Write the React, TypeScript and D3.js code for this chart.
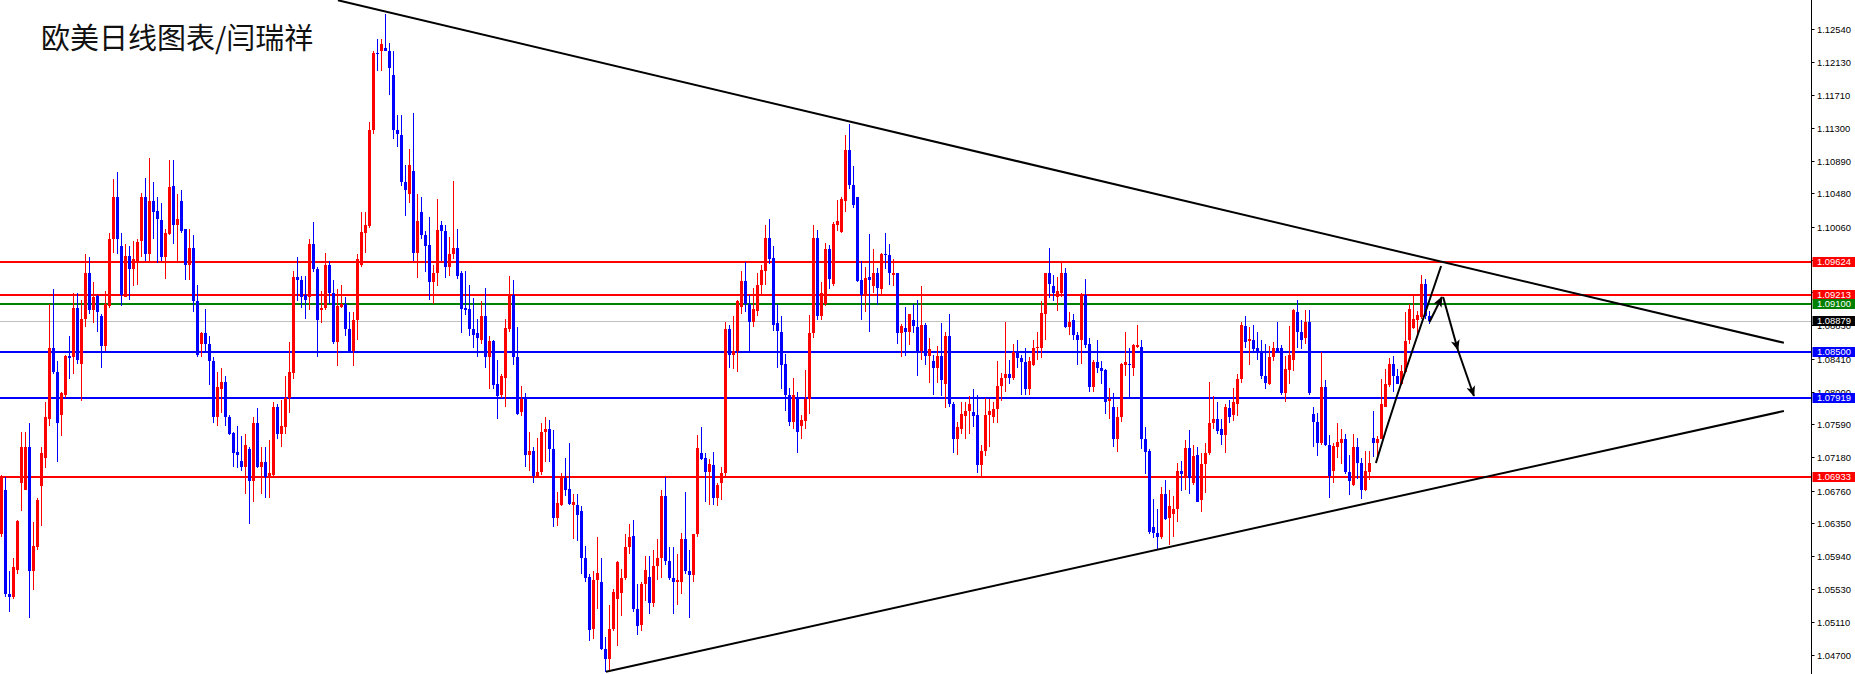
import * as d3 from "d3";

// daily EURUSD candles: [open, high, low, close]
const DAILY_OHLC: [number, number, number, number][] = [
  [1.0621, 1.0696, 1.0618, 1.0693], [1.0677, 1.0693, 1.0543, 1.0546], [1.0546, 1.0575, 1.0524, 1.0543], [1.0543, 1.0591, 1.054, 1.058],
  [1.0576, 1.0639, 1.0572, 1.0638], [1.0685, 1.0749, 1.065, 1.0731], [1.0677, 1.0749, 1.0677, 1.0731], [1.0731, 1.076, 1.0516, 1.0575],
  [1.0575, 1.0637, 1.0551, 1.0607], [1.0605, 1.0666, 1.0602, 1.0664], [1.0682, 1.0731, 1.0631, 1.0723], [1.0717, 1.0787, 1.0704, 1.0768],
  [1.0765, 1.091, 1.0757, 1.0854], [1.0854, 1.0929, 1.0822, 1.0824], [1.0824, 1.0838, 1.0712, 1.076], [1.0771, 1.08, 1.0744, 1.0798],
  [1.0795, 1.0846, 1.0792, 1.0844], [1.0844, 1.087, 1.0816, 1.0842], [1.0843, 1.0923, 1.0822, 1.0905], [1.0905, 1.0923, 1.0835, 1.084],
  [1.0835, 1.0914, 1.0788, 1.0891], [1.0891, 1.0972, 1.0881, 1.0949], [1.0949, 1.0969, 1.0897, 1.0902], [1.0902, 1.0937, 1.0886, 1.0918],
  [1.0919, 1.0921, 1.0875, 1.0899], [1.0894, 1.0897, 1.083, 1.0857], [1.0857, 1.0926, 1.0851, 1.091], [1.0907, 1.0999, 1.0905, 1.0991],
  [1.0991, 1.1066, 1.0974, 1.1044], [1.1044, 1.1075, 1.0972, 1.0991], [1.0982, 1.0999, 1.0907, 1.0921], [1.0918, 1.0985, 1.0918, 1.097],
  [1.097, 1.0982, 1.0915, 1.0953], [1.0953, 1.0988, 1.0932, 1.0966], [1.0964, 1.0991, 1.0934, 1.0987], [1.0988, 1.1048, 1.0969, 1.1044],
  [1.1044, 1.1067, 1.0964, 1.0972], [1.0972, 1.1093, 1.0964, 1.1039], [1.1039, 1.1063, 1.0991, 1.1025], [1.1026, 1.1044, 1.0961, 1.1016],
  [1.1015, 1.1036, 1.0964, 1.0969], [1.0969, 1.1004, 1.0941, 1.0999], [1.0997, 1.109, 1.0996, 1.1056], [1.1057, 1.109, 1.0985, 1.1009],
  [1.1009, 1.1047, 1.0964, 1.1016], [1.1039, 1.1052, 1.0999, 1.1001], [1.1004, 1.1004, 1.094, 1.0958], [1.0958, 1.1004, 1.094, 1.098],
  [1.098, 1.0996, 1.0899, 1.0913], [1.0913, 1.0934, 1.0843, 1.0846], [1.0859, 1.0875, 1.0843, 1.0873], [1.0873, 1.0903, 1.0848, 1.0859],
  [1.086, 1.087, 1.0808, 1.0838], [1.0838, 1.0843, 1.076, 1.0768], [1.0768, 1.0824, 1.0757, 1.0806], [1.0803, 1.083, 1.0773, 1.0812],
  [1.0812, 1.0819, 1.0757, 1.0768], [1.0768, 1.077, 1.0745, 1.0747], [1.0748, 1.0749, 1.0706, 1.0723], [1.0724, 1.0757, 1.0704, 1.0721],
  [1.0713, 1.0744, 1.0701, 1.0705], [1.0706, 1.0747, 1.0672, 1.0733], [1.0728, 1.0731, 1.0634, 1.0688], [1.0688, 1.0768, 1.0661, 1.076],
  [1.076, 1.0779, 1.0704, 1.0706], [1.0706, 1.0731, 1.0672, 1.0712], [1.0712, 1.0731, 1.0666, 1.0693], [1.0693, 1.0739, 1.0666, 1.0698],
  [1.0696, 1.0787, 1.0693, 1.0781], [1.0781, 1.0784, 1.0741, 1.0747], [1.0747, 1.0789, 1.0731, 1.0757], [1.0755, 1.0819, 1.0747, 1.0792],
  [1.0792, 1.0862, 1.0773, 1.0824], [1.0823, 1.0951, 1.0816, 1.0943], [1.0943, 1.0969, 1.0913, 1.094], [1.094, 1.0945, 1.0905, 1.0918],
  [1.0921, 1.0945, 1.0891, 1.0915], [1.0918, 1.0991, 1.0902, 1.0985], [1.0985, 1.1012, 1.095, 1.0953], [1.0954, 1.0956, 1.0843, 1.0889],
  [1.0902, 1.0926, 1.0886, 1.0905], [1.0905, 1.0974, 1.0902, 1.0958], [1.0958, 1.0964, 1.091, 1.0923], [1.0923, 1.094, 1.0859, 1.0862],
  [1.0862, 1.0929, 1.0832, 1.0907], [1.0906, 1.0934, 1.0905, 1.091], [1.091, 1.0918, 1.087, 1.0878], [1.0878, 1.0899, 1.0851, 1.0851],
  [1.0851, 1.0899, 1.0832, 1.0889], [1.0889, 1.0972, 1.0865, 1.0966], [1.0958, 1.1025, 1.0956, 1.1], [1.0999, 1.1025, 1.0974, 1.1008],
  [1.1007, 1.1138, 1.1005, 1.1127], [1.1127, 1.1226, 1.1122, 1.1224], [1.1224, 1.1242, 1.1202, 1.1223], [1.1227, 1.1242, 1.1202, 1.1235],
  [1.123, 1.1273, 1.1226, 1.1226], [1.1226, 1.1237, 1.1171, 1.1205], [1.1196, 1.1226, 1.1116, 1.1127], [1.1128, 1.1146, 1.1106, 1.1123],
  [1.1121, 1.1146, 1.1057, 1.1063], [1.1063, 1.1084, 1.102, 1.1052], [1.1047, 1.1104, 1.1036, 1.1084], [1.1076, 1.1149, 1.0964, 1.0974],
  [1.0974, 1.1047, 1.0942, 1.1014], [1.1025, 1.1044, 1.0991, 1.0996], [1.0996, 1.1001, 1.095, 1.0982], [1.0984, 1.1018, 1.0915, 1.0937],
  [1.0937, 1.0958, 1.091, 1.0948], [1.0948, 1.1041, 1.0932, 1.1002], [1.1009, 1.1013, 1.0964, 1.1001], [1.1001, 1.1009, 1.0942, 1.0956],
  [1.0956, 1.0993, 1.0945, 1.0972], [1.0972, 1.1064, 1.0966, 1.098], [1.098, 1.1004, 1.0941, 1.0945], [1.0948, 1.0951, 1.0873, 1.0903],
  [1.0904, 1.0951, 1.0896, 1.0902], [1.0903, 1.0934, 1.087, 1.0878], [1.0878, 1.0917, 1.0854, 1.0871], [1.0873, 1.0891, 1.0843, 1.0867],
  [1.0865, 1.0913, 1.0859, 1.0894], [1.0894, 1.093, 1.083, 1.0843], [1.0843, 1.087, 1.0803, 1.0863], [1.0863, 1.0865, 1.0803, 1.0808],
  [1.0809, 1.084, 1.0765, 1.0794], [1.0795, 1.0822, 1.0792, 1.0819], [1.0817, 1.0891, 1.0781, 1.088], [1.0878, 1.0945, 1.0875, 1.0921],
  [1.0921, 1.094, 1.0833, 1.0843], [1.0843, 1.0881, 1.0771, 1.0772], [1.0774, 1.0807, 1.0769, 1.0791], [1.0791, 1.0798, 1.0705, 1.0721],
  [1.0721, 1.0749, 1.0701, 1.0726], [1.0726, 1.0731, 1.0685, 1.0694], [1.0694, 1.0742, 1.0693, 1.0699], [1.0699, 1.076, 1.0695, 1.0749],
  [1.0749, 1.0768, 1.0712, 1.0753], [1.0753, 1.0764, 1.0712, 1.0728], [1.0728, 1.0752, 1.063, 1.0642], [1.0642, 1.0674, 1.0631, 1.066],
  [1.0658, 1.0698, 1.0656, 1.0692], [1.0692, 1.0717, 1.0669, 1.0677], [1.0678, 1.0736, 1.0658, 1.0659], [1.0658, 1.0672, 1.0615, 1.0661],
  [1.0658, 1.0672, 1.0613, 1.0645], [1.065, 1.0656, 1.0572, 1.0591], [1.0591, 1.0607, 1.0562, 1.0567], [1.0568, 1.0572, 1.0487, 1.0501],
  [1.0503, 1.0575, 1.049, 1.0564], [1.0564, 1.0618, 1.0527, 1.0573], [1.0562, 1.0591, 1.0476, 1.0478], [1.0478, 1.0493, 1.0449, 1.0465],
  [1.0465, 1.0532, 1.0449, 1.0503], [1.0503, 1.0553, 1.05, 1.0549], [1.054, 1.0588, 1.0481, 1.0586], [1.0548, 1.0578, 1.0519, 1.0566],
  [1.0566, 1.0621, 1.0564, 1.0605], [1.0605, 1.0634, 1.0597, 1.0618], [1.0619, 1.0639, 1.0524, 1.0527], [1.0528, 1.0559, 1.0495, 1.0506],
  [1.0508, 1.0562, 1.05, 1.0559], [1.0559, 1.0594, 1.0538, 1.0576], [1.0568, 1.0594, 1.0521, 1.0535], [1.0535, 1.0602, 1.053, 1.0582],
  [1.0582, 1.0615, 1.0564, 1.0592], [1.0591, 1.0677, 1.0567, 1.0669], [1.0669, 1.0693, 1.0583, 1.0588], [1.0588, 1.0605, 1.0564, 1.0566],
  [1.0566, 1.0605, 1.0521, 1.0562], [1.0562, 1.0597, 1.0532, 1.0564], [1.0562, 1.0623, 1.0546, 1.0615], [1.0615, 1.0674, 1.0572, 1.0575],
  [1.0575, 1.0602, 1.0516, 1.057], [1.057, 1.0621, 1.0562, 1.0621], [1.0621, 1.0746, 1.0618, 1.0729], [1.0723, 1.0756, 1.0714, 1.0716],
  [1.0717, 1.0723, 1.0662, 1.0699], [1.0699, 1.0716, 1.0658, 1.0709], [1.0708, 1.0724, 1.0658, 1.0666], [1.0666, 1.0685, 1.0656, 1.0683],
  [1.0685, 1.0706, 1.0664, 1.0698], [1.0698, 1.0887, 1.0692, 1.0878], [1.0878, 1.0883, 1.083, 1.0846], [1.0846, 1.0894, 1.0828, 1.0851],
  [1.0851, 1.0914, 1.0824, 1.0913], [1.0906, 1.0951, 1.0897, 1.0938], [1.0938, 1.0962, 1.0899, 1.091], [1.091, 1.0921, 1.0851, 1.0887],
  [1.0887, 1.093, 1.0881, 1.0903], [1.0901, 1.0948, 1.0894, 1.0933], [1.0933, 1.0958, 1.0921, 1.0952], [1.0951, 1.1008, 1.0934, 1.0992],
  [1.0992, 1.1016, 1.096, 1.0966], [1.0967, 1.0982, 1.0876, 1.0883], [1.0886, 1.091, 1.083, 1.0876], [1.0874, 1.0894, 1.0803, 1.0833],
  [1.0835, 1.0847, 1.0776, 1.0796], [1.0796, 1.0804, 1.0757, 1.0762], [1.0762, 1.0817, 1.0753, 1.0795], [1.0792, 1.08, 1.0723, 1.0749],
  [1.0757, 1.0771, 1.074, 1.0764], [1.0763, 1.0827, 1.0753, 1.0791], [1.0791, 1.0896, 1.0772, 1.0873], [1.0873, 1.1008, 1.0867, 1.0992],
  [1.0992, 1.1002, 1.0889, 1.0894], [1.0894, 1.0937, 1.0889, 1.0923], [1.091, 1.0986, 1.0907, 1.0979], [1.0979, 1.0984, 1.0928, 1.0941],
  [1.0935, 1.1012, 1.0932, 1.101], [1.1009, 1.104, 1.1001, 1.1013], [1.1, 1.1044, 1.0999, 1.1041], [1.1039, 1.1121, 1.1025, 1.1103],
  [1.1103, 1.1135, 1.1053, 1.1059], [1.1059, 1.1083, 1.103, 1.1033], [1.1043, 1.1044, 1.0937, 1.0938], [1.094, 1.0964, 1.089, 1.0921],
  [1.0919, 1.0956, 1.0899, 1.0942], [1.0944, 1.0997, 1.0875, 1.094], [1.0932, 1.0978, 1.0923, 1.0949], [1.0949, 1.0955, 1.0908, 1.093],
  [1.0929, 1.0973, 1.0922, 1.0972], [1.0972, 1.0999, 1.0953, 1.0971], [1.0971, 1.0985, 1.0933, 1.0948], [1.0946, 1.0966, 1.0932, 1.0948],
  [1.0948, 1.0949, 1.086, 1.0873], [1.0873, 1.0885, 1.0843, 1.0882], [1.088, 1.0906, 1.0844, 1.0874], [1.0875, 1.0897, 1.0858, 1.0897],
  [1.0889, 1.091, 1.0873, 1.0882], [1.0881, 1.0915, 1.0819, 1.0851], [1.0851, 1.0932, 1.084, 1.0883], [1.0883, 1.0886, 1.0833, 1.0844],
  [1.0844, 1.0867, 1.0811, 1.0853], [1.0838, 1.0846, 1.0795, 1.083], [1.083, 1.0857, 1.0811, 1.0844], [1.0844, 1.0886, 1.0794, 1.0815],
  [1.081, 1.0874, 1.0779, 1.087], [1.087, 1.0897, 1.0781, 1.0784], [1.0784, 1.0787, 1.0723, 1.0741], [1.0741, 1.0762, 1.0721, 1.0755],
  [1.0753, 1.0787, 1.0747, 1.0772], [1.0769, 1.0787, 1.074, 1.0776], [1.0776, 1.0794, 1.0747, 1.0784], [1.0774, 1.0803, 1.0755, 1.0769],
  [1.0771, 1.0795, 1.0698, 1.0708], [1.0708, 1.0733, 1.0694, 1.0726], [1.0725, 1.0792, 1.0719, 1.0771], [1.0771, 1.0791, 1.0731, 1.0776],
  [1.0768, 1.0787, 1.076, 1.0778], [1.0778, 1.0838, 1.076, 1.0807], [1.0807, 1.0823, 1.0788, 1.0817], [1.0817, 1.0887, 1.08, 1.0822],
  [1.0822, 1.0839, 1.081, 1.0817], [1.0817, 1.0859, 1.0815, 1.085], [1.085, 1.0865, 1.083, 1.0842], [1.0842, 1.0846, 1.0795, 1.0837],
  [1.0837, 1.0855, 1.0795, 1.0803], [1.0803, 1.0843, 1.0795, 1.0838], [1.0833, 1.0865, 1.0832, 1.0855], [1.0854, 1.0875, 1.0839, 1.0856],
  [1.0855, 1.0913, 1.0842, 1.0898], [1.0897, 1.0948, 1.0865, 1.0948], [1.0948, 1.098, 1.0917, 1.0935], [1.0932, 1.0946, 1.0913, 1.0923],
  [1.0918, 1.0943, 1.0901, 1.0926], [1.0923, 1.0962, 1.0918, 1.0948], [1.0948, 1.0955, 1.088, 1.0881], [1.0881, 1.0899, 1.0871, 1.0887],
  [1.0889, 1.0897, 1.0865, 1.0871], [1.0871, 1.0875, 1.0833, 1.0865], [1.0865, 1.0923, 1.0835, 1.0921], [1.0921, 1.0941, 1.0855, 1.0858],
  [1.0859, 1.0867, 1.0799, 1.0806], [1.0806, 1.084, 1.08, 1.0837], [1.0837, 1.0865, 1.0823, 1.083], [1.083, 1.0838, 1.081, 1.0826],
  [1.0827, 1.0828, 1.0772, 1.0787], [1.0788, 1.0804, 1.0765, 1.0791], [1.0781, 1.0798, 1.0731, 1.0741], [1.0741, 1.0781, 1.0724, 1.0768],
  [1.0768, 1.0836, 1.0762, 1.0835], [1.0833, 1.0875, 1.0819, 1.0837], [1.0835, 1.0855, 1.079, 1.0833], [1.083, 1.086, 1.0819, 1.0858],
  [1.0856, 1.0883, 1.0854, 1.0858], [1.0856, 1.0865, 1.0728, 1.0741], [1.0741, 1.0756, 1.0697, 1.0724], [1.0726, 1.0728, 1.0622, 1.0624],
  [1.063, 1.0665, 1.0617, 1.0623], [1.0623, 1.0653, 1.0602, 1.0618], [1.0618, 1.068, 1.0615, 1.0672], [1.0672, 1.0689, 1.0639, 1.064],
  [1.0642, 1.0677, 1.0608, 1.0656], [1.0647, 1.0669, 1.0618, 1.0653], [1.0653, 1.071, 1.0637, 1.07], [1.07, 1.0713, 1.0676, 1.0697],
  [1.0693, 1.0739, 1.0677, 1.0729], [1.0729, 1.0752, 1.0672, 1.0692], [1.0685, 1.0733, 1.0683, 1.0719], [1.072, 1.0731, 1.0661, 1.0662],
  [1.0664, 1.0723, 1.0649, 1.0709], [1.0709, 1.0735, 1.0673, 1.0723], [1.0723, 1.0812, 1.072, 1.076], [1.076, 1.0794, 1.0753, 1.0765],
  [1.0765, 1.0787, 1.0747, 1.0751], [1.0753, 1.0765, 1.0733, 1.0746], [1.0746, 1.0784, 1.0723, 1.078], [1.0779, 1.0789, 1.076, 1.0768],
  [1.0771, 1.0804, 1.0763, 1.0787], [1.0784, 1.0822, 1.0769, 1.0816], [1.0816, 1.0887, 1.0811, 1.0883], [1.0882, 1.0894, 1.0854, 1.0862],
  [1.0863, 1.0881, 1.0833, 1.0866], [1.0865, 1.0883, 1.0851, 1.0853], [1.0854, 1.0874, 1.084, 1.0851], [1.0851, 1.0865, 1.0816, 1.0819],
  [1.0819, 1.0859, 1.0803, 1.0811], [1.081, 1.0857, 1.0808, 1.0843], [1.0843, 1.0862, 1.0838, 1.0855], [1.0855, 1.0887, 1.0848, 1.085],
  [1.0855, 1.0858, 1.0796, 1.0798], [1.0798, 1.0844, 1.0787, 1.0828], [1.0827, 1.0882, 1.081, 1.0846], [1.084, 1.0903, 1.0826, 1.0902],
  [1.0899, 1.0915, 1.0854, 1.0875], [1.0875, 1.089, 1.0853, 1.0865], [1.0867, 1.0902, 1.0859, 1.0887], [1.0887, 1.0902, 1.0796, 1.0798],
  [1.0772, 1.0781, 1.0731, 1.0762], [1.0762, 1.0773, 1.0719, 1.0736], [1.0735, 1.0849, 1.0733, 1.0806], [1.0806, 1.0815, 1.0732, 1.0733],
  [1.0733, 1.0746, 1.0666, 1.0694], [1.0701, 1.0736, 1.0685, 1.0732], [1.0731, 1.076, 1.0717, 1.0737], [1.0736, 1.0753, 1.0709, 1.0741],
  [1.0741, 1.0747, 1.0697, 1.0699], [1.0699, 1.072, 1.067, 1.0688], [1.0683, 1.0747, 1.0682, 1.0731], [1.0731, 1.0742, 1.069, 1.071],
  [1.071, 1.0717, 1.0665, 1.0677], [1.0677, 1.0725, 1.0676, 1.0701], [1.0699, 1.0725, 1.0689, 1.071], [1.0742, 1.0776, 1.0718, 1.0736],
  [1.0735, 1.0744, 1.0714, 1.0741], [1.0741, 1.0816, 1.074, 1.0784], [1.0781, 1.0828, 1.078, 1.081], [1.0808, 1.0842, 1.0806, 1.0835],
  [1.0835, 1.0844, 1.08, 1.0819], [1.0819, 1.0828, 1.081, 1.081], [1.081, 1.0833, 1.0808, 1.0826], [1.0825, 1.0899, 1.0823, 1.0863],
  [1.0865, 1.091, 1.0859, 1.0903], [1.088, 1.0921, 1.0878, 1.0891], [1.0889, 1.0901, 1.0869, 1.0896], [1.0893, 1.0946, 1.0891, 1.0935],
  [1.0935, 1.0941, 1.0891, 1.0894], [1.0894, 1.0901, 1.0885, 1.0888],
];

// right price scale labels
const PRICE_TICKS = [
  "1.12540", "1.12130", "1.11710", "1.11300", "1.10890", "1.10480", "1.10060", "1.09650", "1.09240", "1.08830",
  "1.08410", "1.08000", "1.07590", "1.07180", "1.06760", "1.06350", "1.05940", "1.05530", "1.05110", "1.04700",
];

// horizontal levels drawn by the analyst
const LEVEL_PRICES = [1.09624, 1.09213, 1.091, 1.085, 1.07919, 1.06933];
const LEVEL_KINDS = ["resist", "resist", "pivot", "support", "support", "resist"];
const CURRENT_PRICE = 1.08879;

// trend lines as [bar index, price]
const UPPER_TREND: [number, number][] = [[84.1, 1.129], [445.6, 1.0861]];
const LOWER_TREND: [number, number][] = [[151.1, 1.0449], [445.6, 1.07756]];
const RISE_CURVE: [number, number][] = [[343.6, 1.07105], [348.8, 1.07935], [359.9, 1.09572]];
const ARROWS: [number, number][][] = [
  [[357.0, 1.0887], [360.1, 1.09184]],
  [[360.4, 1.09184], [364.1, 1.0852]],
  [[364.1, 1.0852], [368.1, 1.07944]],
];

const TITLE = "欧美日线图表/闫瑞祥";

const W = 1855;
const H = 674;
const AXIS_X = 1811.5;
const UP = "#ff0000";
const DOWN = "#0000ff";
const kindColor = { resist: "#ff0000", pivot: "#008000", support: "#0000ff" };

export default function App() {
  const x = d3.scaleLinear().domain([0, 1]).range([1.5, 5.5]);
  const y = d3.scaleLinear().domain([1.047, 1.1254]).range([655, 29]);

  const line = d3
    .line<[number, number]>()
    .x((d) => x(d[0]))
    .y((d) => y(d[1]));
  const curve = d3
    .line<[number, number]>()
    .x((d) => x(d[0]))
    .y((d) => y(d[1]))
    .curve(d3.curveNatural);

  const labelFont = { fontFamily: "'Liberation Sans', Arial, sans-serif", fontSize: 9.4 };

  return (
    <svg
      width={W}
      height={H}
      style={{ position: "absolute", left: 0, top: 0, display: "block", background: "#fff" }}
    >
      <defs>
        <marker id="head" viewBox="0 0 12 10" refX="11" refY="5" markerWidth="6" markerHeight="4.5" orient="auto">
          <path d="M0,0 L12,5 L0,10 L3,5 z" fill="#000" />
        </marker>
        <clipPath id="plot">
          <rect x={0} y={0} width={AXIS_X} height={H} />
        </clipPath>
      </defs>

      <g clipPath="url(#plot)">
        {/* current bid line */}
        <line x1={0} x2={AXIS_X} y1={Math.round(y(CURRENT_PRICE)) + 0.5} y2={Math.round(y(CURRENT_PRICE)) + 0.5} stroke="#c0c0c0" strokeWidth={1} />

        {LEVEL_PRICES.map((p, i) => (
          <line key={"lv" + i} x1={0} x2={AXIS_X} y1={Math.round(y(p))} y2={Math.round(y(p))} stroke={kindColor[LEVEL_KINDS[i]]} strokeWidth={2} />
        ))}

        {/* candles */}
        <g shapeRendering="crispEdges">
          {DAILY_OHLC.map(([o, h, l, c], i) => {
            const col = c > o ? UP : DOWN;
            const cx = x(i);
            const top = Math.round(y(Math.max(o, c)));
            const bot = Math.round(y(Math.min(o, c)));
            return (
              <g key={i}>
                <line x1={cx} x2={cx} y1={Math.round(y(h))} y2={Math.round(y(l))} stroke={col} strokeWidth={1} />
                <rect x={cx - 1.5} y={top} width={3} height={Math.max(1, bot - top)} fill={col} />
              </g>
            );
          })}
        </g>

        {/* trend lines & drawings */}
        <path d={line(UPPER_TREND) ?? ""} stroke="#000" strokeWidth={2} fill="none" />
        <path d={line(LOWER_TREND) ?? ""} stroke="#000" strokeWidth={2} fill="none" />
        <path d={curve(RISE_CURVE) ?? ""} stroke="#000" strokeWidth={2} fill="none" />
        {ARROWS.map((a, i) => (
          <path key={"ar" + i} d={line(a) ?? ""} stroke="#000" strokeWidth={2} fill="none" markerEnd="url(#head)" />
        ))}
      </g>

      {/* price axis */}
      <line x1={AXIS_X} x2={AXIS_X} y1={0} y2={H} stroke="#000" strokeWidth={1} />
      {PRICE_TICKS.map((t) => {
        const ty = Math.round(y(+t)) + 0.5;
        return (
          <g key={t}>
            <line x1={AXIS_X} x2={AXIS_X + 3} y1={ty} y2={ty} stroke="#000" />
            <text x={1817} y={ty + 3.4} fill="#000" {...labelFont}>
              {t}
            </text>
          </g>
        );
      })}

      {/* level price tags */}
      {[...LEVEL_PRICES.map((p, i) => ({ p, fill: kindColor[LEVEL_KINDS[i]] })), { p: CURRENT_PRICE, fill: "#000" }].map((d, i) => {
        const ty = Math.round(y(d.p));
        return (
          <g key={"tag" + i}>
            <rect x={AXIS_X + 1} y={ty - 5} width={W - AXIS_X} height={10} fill={d.fill} />
            <text x={1817} y={ty + 3.4} fill="#fff" {...labelFont}>
              {d.p.toFixed(5)}
            </text>
          </g>
        );
      })}

      <text x={41} y={49} fontFamily="'Noto Sans CJK SC', sans-serif" fontSize={29} fill="#111">
        {TITLE}
      </text>
    </svg>
  );
}
